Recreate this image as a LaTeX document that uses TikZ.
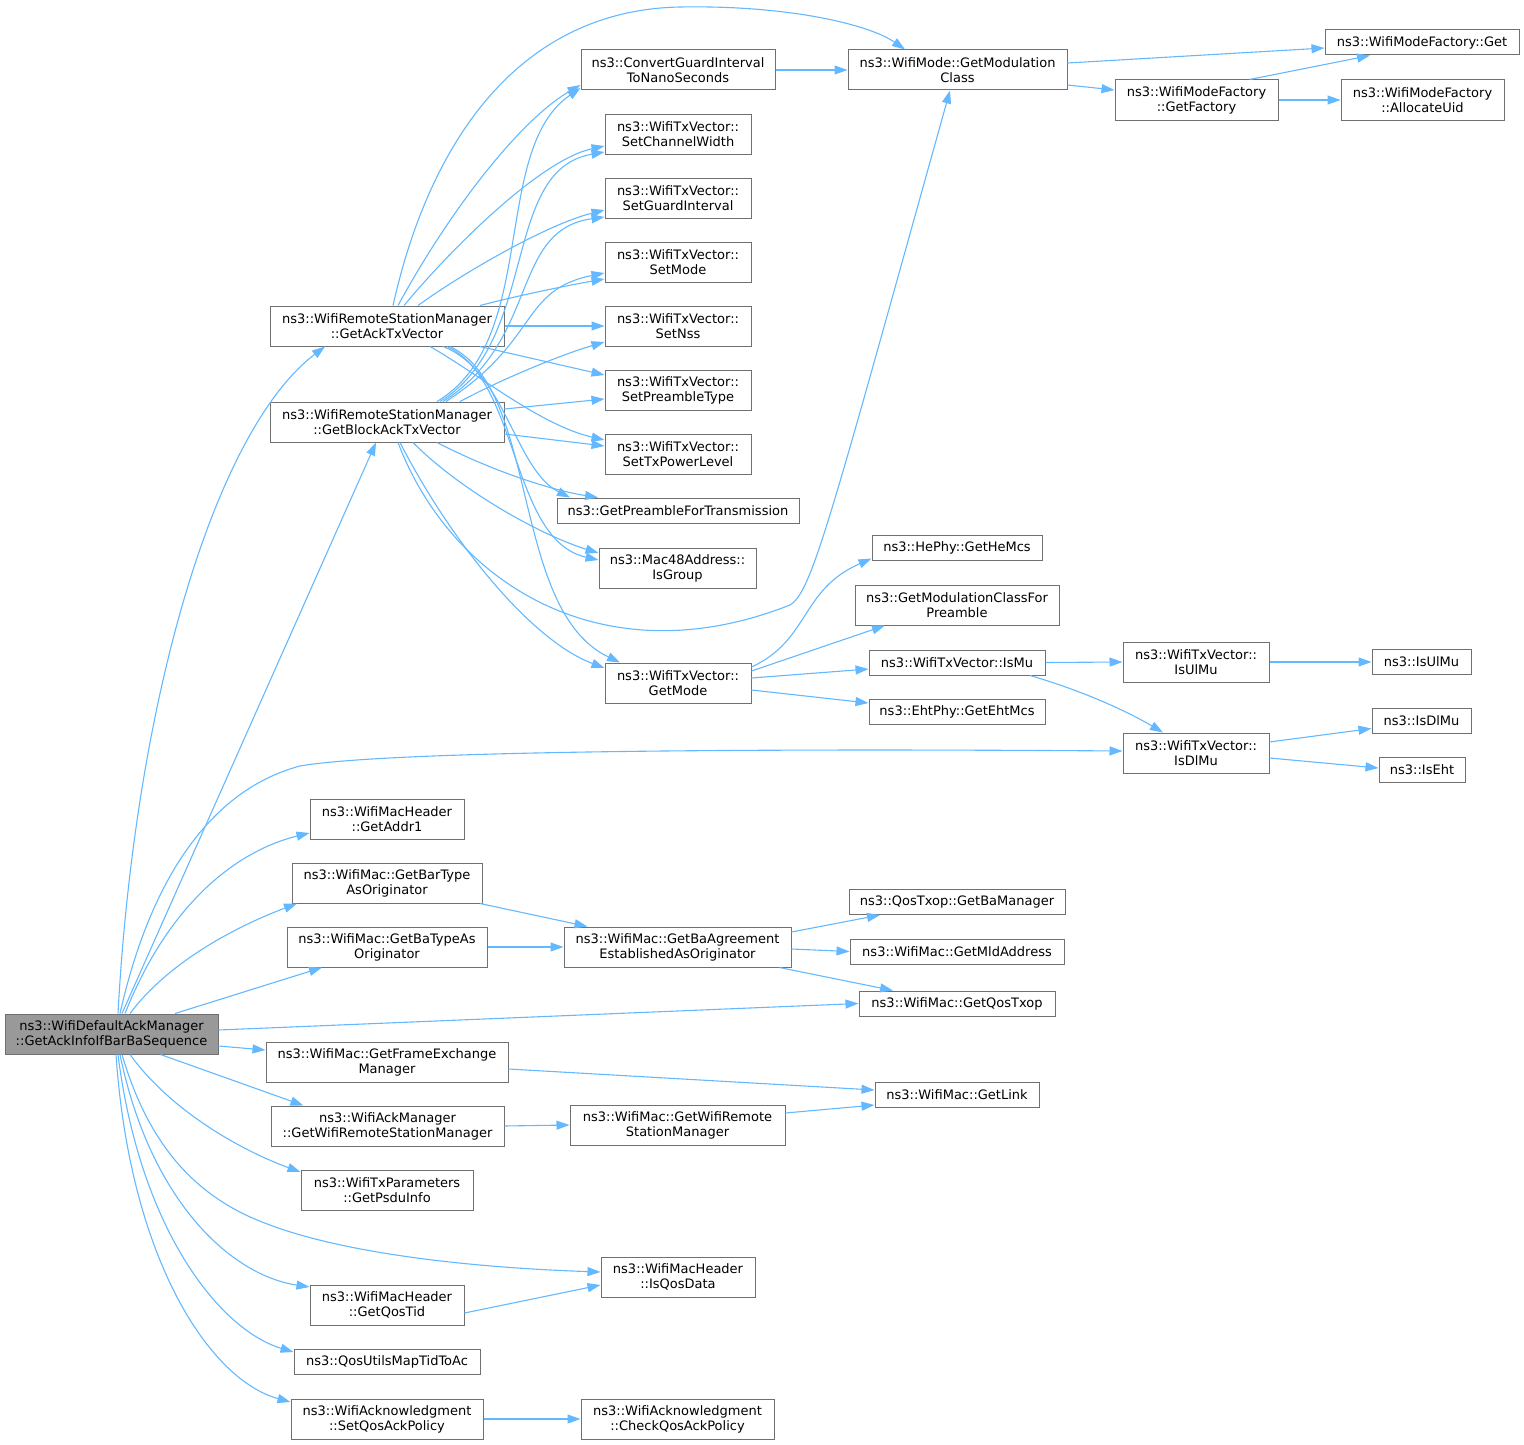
\documentclass[tikz,border=0pt]{standalone}
\usepackage{fontspec}
\setmainfont{DejaVu Sans}
\usetikzlibrary{arrows.meta}
\definecolor{edgec}{HTML}{63B8FF}
\definecolor{boxc}{HTML}{707070}
\definecolor{rootc}{HTML}{999999}
\tikzset{
  box/.style={draw=boxc, line width=1pt, fill=white, align=center, inner sep=0pt, text=black, font=\fontsize{13}{15}\selectfont, minimum height=40},
  sbox/.style={box, minimum height=25},
  edge/.style={draw=edgec, line width=1.1pt, -{Triangle[length=13pt,width=9pt]}},
}
\begin{document}
\begin{tikzpicture}[x=1pt,y=-1pt]
\useasboundingbox (0,0) rectangle (1524,1445);
% nodes
\node[box, fill=rootc, minimum width=213] (R) at (111.5,1034) {ns3::WifiDefaultAckManager\\::GetAckInfoIfBarBaSequence};
\node[box, minimum width=234] (A) at (387,326) {ns3::WifiRemoteStationManager\\::GetAckTxVector};
\node[box, minimum width=234] (B) at (387,422) {ns3::WifiRemoteStationManager\\::GetBlockAckTxVector};
\node[box, minimum width=194] (CGI) at (678,70) {ns3::ConvertGuardInterval\\ToNanoSeconds};
\node[box, minimum width=146] (SCW) at (678,134) {ns3::WifiTxVector::\\SetChannelWidth};
\node[box, minimum width=146] (SGI) at (678,198) {ns3::WifiTxVector::\\SetGuardInterval};
\node[box, minimum width=146] (SM) at (678,262) {ns3::WifiTxVector::\\SetMode};
\node[box, minimum width=146] (SN) at (678,326) {ns3::WifiTxVector::\\SetNss};
\node[box, minimum width=146] (SPT) at (678,390) {ns3::WifiTxVector::\\SetPreambleType};
\node[box, minimum width=146] (STPL) at (678,454) {ns3::WifiTxVector::\\SetTxPowerLevel};
\node[sbox, minimum width=242] (GPFT) at (678,510.5) {ns3::GetPreambleForTransmission};
\node[box, minimum width=157] (IG) at (677.5,568) {ns3::Mac48Address::\\IsGroup};
\node[box, minimum width=146] (GM) at (678,683) {ns3::WifiTxVector::\\GetMode};
\node[box, minimum width=219] (GMC) at (957.5,70) {ns3::WifiMode::GetModulation\\Class};
\node[sbox, minimum width=194] (WMFG) at (1422,42.5) {ns3::WifiModeFactory::Get};
\node[box, minimum width=163] (GF) at (1196.5,100) {ns3::WifiModeFactory\\::GetFactory};
\node[box, minimum width=163] (AU) at (1422.5,100) {ns3::WifiModeFactory\\::AllocateUid};
\node[sbox, minimum width=170] (HE) at (957,547.5) {ns3::HePhy::GetHeMcs};
\node[box, minimum width=204] (GMCP) at (957,605) {ns3::GetModulationClassFor\\Preamble};
\node[sbox, minimum width=176] (IM) at (957,662.5) {ns3::WifiTxVector::IsMu};
\node[sbox, minimum width=176] (EHT) at (957,711.5) {ns3::EhtPhy::GetEhtMcs};
\node[box, minimum width=146] (IUM) at (1196,662) {ns3::WifiTxVector::\\IsUlMu};
\node[box, minimum width=146] (IDM) at (1196,753) {ns3::WifiTxVector::\\IsDlMu};
\node[sbox, minimum width=99] (NIU) at (1421.5,662) {ns3::IsUlMu};
\node[sbox, minimum width=99] (NID) at (1421.5,720.5) {ns3::IsDlMu};
\node[sbox, minimum width=86] (NIE) at (1422,770) {ns3::IsEht};
\node[box, minimum width=154] (GA1) at (387,819.5) {ns3::WifiMacHeader\\::GetAddr1};
\node[box, minimum width=190] (GBTO) at (387,883) {ns3::WifiMac::GetBarType\\AsOriginator};
\node[box, minimum width=200] (GBTAO) at (387,947) {ns3::WifiMac::GetBaTypeAs\\Originator};
\node[box, minimum width=227] (GBAE) at (677.5,947) {ns3::WifiMac::GetBaAgreement\\EstablishedAsOriginator};
\node[sbox, minimum width=216] (GBM) at (957,902) {ns3::QosTxop::GetBaManager};
\node[sbox, minimum width=214] (GMLD) at (957,951.5) {ns3::WifiMac::GetMldAddress};
\node[sbox, minimum width=196] (GQT) at (957,1003.5) {ns3::WifiMac::GetQosTxop};
\node[box, minimum width=242] (GFEM) at (387,1062) {ns3::WifiMac::GetFrameExchange\\Manager};
\node[sbox, minimum width=164] (GL) at (957,1095) {ns3::WifiMac::GetLink};
\node[box, minimum width=233] (GWRSM1) at (387.5,1126) {ns3::WifiAckManager\\::GetWifiRemoteStationManager};
\node[box, minimum width=215] (GWRSM2) at (677.5,1125) {ns3::WifiMac::GetWifiRemote\\StationManager};
\node[box, minimum width=172] (GPI) at (387,1190) {ns3::WifiTxParameters\\::GetPsduInfo};
\node[box, minimum width=154] (IQD) at (678,1277) {ns3::WifiMacHeader\\::IsQosData};
\node[box, minimum width=154] (GQTID) at (387,1305) {ns3::WifiMacHeader\\::GetQosTid};
\node[sbox, minimum width=186] (QUM) at (387,1362) {ns3::QosUtilsMapTidToAc};
\node[box, minimum width=192] (SQAP) at (387,1419) {ns3::WifiAcknowledgment\\::SetQosAckPolicy};
\node[box, minimum width=193] (CQAP) at (677.5,1419) {ns3::WifiAcknowledgment\\::CheckQosAckPolicy};

% edges from GetAckTxVector
\draw[edge] ([xshift=6]A.north) .. controls (430,140) and (520,10) .. (680,7) .. controls (790,5) and (870,25) .. ([xshift=-52.5]GMC.north);
\draw[edge] ([xshift=11]A.north) .. controls (450,210) and (520,120) .. ([yshift=-15]CGI.west);
\draw[edge] ([xshift=17]A.north) .. controls (450,250) and (540,160) .. ([yshift=-12]SCW.west);
\draw[edge] ([xshift=31]A.north) .. controls (460,275) and (545,225) .. ([yshift=-12]SGI.west);
\draw[edge] ([xshift=93]A.north) .. controls (520,295) and (570,285) .. ([yshift=-17]SM.west);
\draw[edge] (A.east) -- (SN.west);
\draw[edge] ([xshift=93]A.south) -- ([yshift=15]SPT.west);
\draw[edge] ([xshift=43]A.south) .. controls (480,375) and (540,425) .. ([yshift=14]STPL.west);
\draw[edge] ([xshift=56]A.south) .. controls (505,370) and (515,470) .. ([xshift=-108]GPFT.north);
\draw[edge] ([xshift=60]A.south) .. controls (520,380) and (510,540) .. ([yshift=8]IG.west);
\draw[edge] ([xshift=63]A.south) .. controls (540,390) and (510,610) .. ([xshift=-58]GM.north);

% edges from GetBlockAckTxVector
\draw[edge] ([xshift=50]B.north) .. controls (540,340) and (490,150) .. ([yshift=-18]CGI.west);
\draw[edge] ([xshift=53]B.north) .. controls (540,340) and (500,170) .. ([yshift=-18]SCW.west);
\draw[edge] ([xshift=56]B.north) .. controls (540,340) and (510,230) .. ([yshift=-19]SGI.west);
\draw[edge] ([xshift=59]B.north) .. controls (540,340) and (520,290) .. ([yshift=-11]SM.west);
\draw[edge] ([xshift=73]B.north) .. controls (500,380) and (560,355) .. ([yshift=-16]SN.west);
\draw[edge] ([yshift=13]B.east) -- ([yshift=-9]SPT.west);
\draw[edge] ([yshift=-12]B.east) -- ([yshift=8]STPL.west);
\draw[edge] ([xshift=50]B.south) .. controls (490,470) and (550,490) .. ([xshift=-80]GPFT.north);
\draw[edge] ([xshift=26]B.south) .. controls (460,490) and (540,535) .. ([yshift=15]IG.west);
\draw[edge] ([xshift=13]B.south) .. controls (450,540) and (530,640) .. ([yshift=15]GM.west);
\draw[edge] ([xshift=11]B.south) .. controls (450,580) and (600,680) .. (790,605) .. controls (812,592) and (830,520) .. ([xshift=-7.5]GMC.south);

% edges from the root
\draw[edge] ([xshift=6.5]R.north) .. controls (135,700) and (215,430) .. ([xshift=-62]A.south);
\draw[edge] ([xshift=10.5]R.north) -- ([xshift=-11]B.south);
\draw[edge] ([xshift=8.5]R.north) .. controls (150,880) and (210,790) .. (300,766) .. controls (380,752) and (700,748) .. ([yshift=2]IDM.west);
\draw[edge] ([xshift=13.5]R.north) .. controls (170,900) and (240,850) .. ([yshift=-13.5]GA1.west);
\draw[edge] ([xshift=18.5]R.north) .. controls (170,960) and (240,925) .. ([xshift=-90]GBTO.south);
\draw[edge] ([xshift=63.5]R.north) -- ([xshift=-65]GBTAO.south);
\draw[edge] ([yshift=4]R.east) -- (GQT.west);
\draw[edge] ([yshift=-12]R.east) -- ([yshift=12]GFEM.west);
\draw[edge] ([xshift=49]R.south) -- ([xshift=-84]GWRSM1.north);
\draw[edge] ([xshift=18.5]R.south) .. controls (170,1110) and (240,1150) .. ([yshift=18]GPI.west);
\draw[edge] ([xshift=10.5]R.south) .. controls (150,1150) and (200,1200) .. (270,1225) .. controls (350,1255) and (480,1268) .. ([yshift=5]IQD.west);
\draw[edge] ([xshift=8.5]R.south) .. controls (150,1200) and (230,1275) .. ([yshift=18]GQTID.west);
\draw[edge] ([xshift=6.5]R.south) .. controls (140,1230) and (220,1330) .. ([yshift=10]QUM.west);
\draw[edge] ([xshift=4.5]R.south) .. controls (130,1260) and (210,1380) .. ([yshift=17]SQAP.west);

% other edges
\draw[edge] (CGI.east) -- (GMC.west);
\draw[edge] ([yshift=7]GMC.east) -- ([yshift=-5.5]WMFG.west);
\draw[edge] ([yshift=-15]GMC.east) -- ([yshift=10]GF.west);
\draw[edge] ([xshift=53]GF.north) -- ([xshift=-52]WMFG.south);
\draw[edge] (GF.east) -- (AU.west);
\draw[edge] ([yshift=16]GM.east) .. controls (810,640) and (800,590) .. ([yshift=-11]HE.west);
\draw[edge] ([yshift=12]GM.east) -- ([xshift=-72]GMCP.south);
\draw[edge] ([yshift=5]GM.east) -- ([yshift=-6.5]IM.west);
\draw[edge] ([yshift=-7]GM.east) -- ([yshift=8.5]EHT.west);
\draw[edge] (IM.east) -- (IUM.west);
\draw[edge] ([xshift=73]IM.south) .. controls (1080,690) and (1125,710) .. ([xshift=-33]IDM.north);
\draw[edge] (IUM.east) -- (NIU.west);
\draw[edge] ([yshift=11]IDM.east) -- ([yshift=-8]NID.west);
\draw[edge] ([yshift=-5]IDM.east) -- ([yshift=2]NIE.west);
\draw[edge] ([xshift=93]GBTO.south) -- ([xshift=-90]GBAE.north);
\draw[edge] (GBTAO.east) -- (GBAE.west);
\draw[edge] ([yshift=15]GBAE.east) -- ([xshift=-77]GBM.south);
\draw[edge] ([yshift=-2]GBAE.east) -- (GMLD.west);
\draw[edge] ([xshift=102]GBAE.south) -- ([xshift=-64]GQT.north);
\draw[edge] ([yshift=-7]GFEM.east) -- ([yshift=5]GL.west);
\draw[edge] (GWRSM1.east) -- (GWRSM2.west);
\draw[edge] ([yshift=12]GWRSM2.east) -- ([yshift=-10]GL.west);
\draw[edge] ([yshift=-8]GQTID.east) -- ([yshift=-8]IQD.west);
\draw[edge] (SQAP.east) -- (CQAP.west);
\end{tikzpicture}
\end{document}
